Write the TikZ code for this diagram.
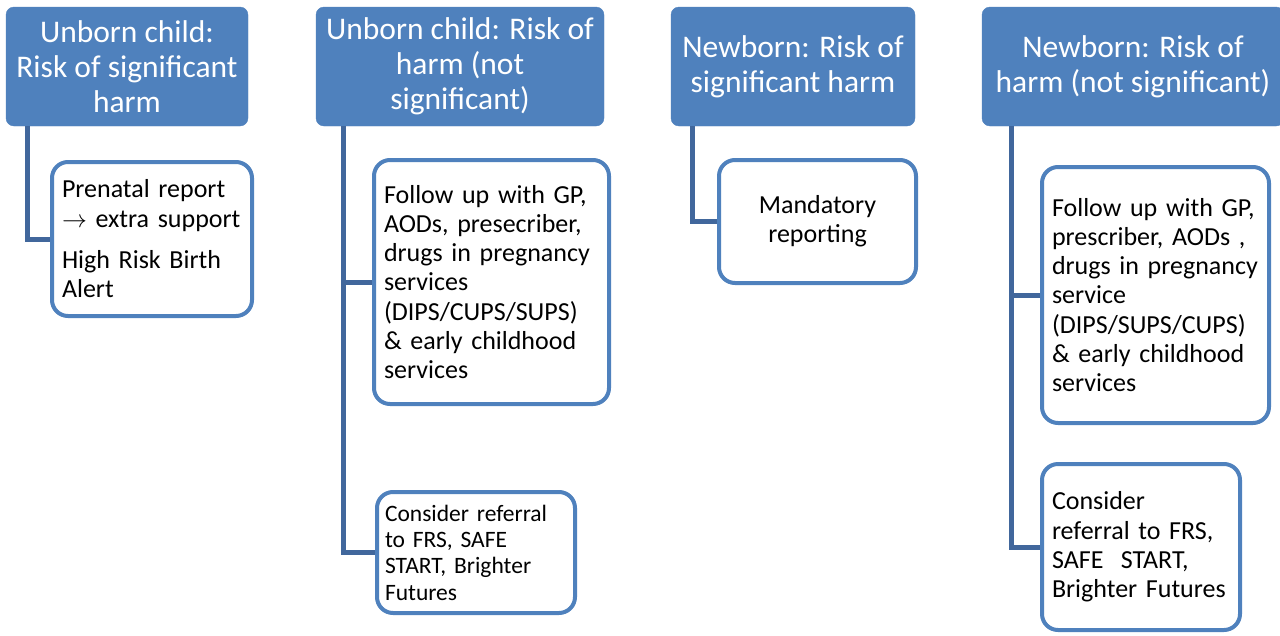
\documentclass[tikz,border=0pt]{standalone}
\usepackage{fontspec}
\setmainfont{Carlito}
\usepackage{tikz}
\usetikzlibrary{calc}
\definecolor{headblue}{RGB}{79,129,189}
\definecolor{linkblue}{RGB}{65,103,156}
\tikzstyle{head}=[rectangle,rounded corners=8pt,fill=headblue,draw=headblue,text=white,align=center,inner sep=0pt,font=\fontsize{31.5}{35}\selectfont]
\tikzstyle{leaf}=[rectangle,rounded corners=16pt,fill=white,draw=headblue,line width=4pt,align=left,inner xsep=10pt,inner ysep=0pt,font=\fontsize{26}{29.3}\selectfont]
\tikzstyle{smallleaf}=[leaf,inner xsep=8pt,font=\fontsize{23.5}{26.3}\selectfont]
\tikzstyle{branch}=[draw=linkblue,line width=5pt,line join=miter]

\begin{document}
\begin{tikzpicture}[x=1pt,y=-1pt]
    \clip (0,0) rectangle (1280,635);
    \useasboundingbox (0,0) rectangle (1280,635);

    % headings
    \node[head,minimum width=242,minimum height=119] (h1) at (127,66.5) {Unborn child:\\Risk of significant\\harm};
    \node[head,minimum width=288,minimum height=119] (h2) at (460,66.5) {Unborn child: Risk of\\harm (not\\significant)};
    \node[head,minimum width=244,minimum height=119] (h3) at (793,66.5) {Newborn: Risk of\\significant harm};
    \node[head,minimum width=302,minimum height=119] (h4) at (1133,66.5) {Newborn: Risk of\\harm (not significant)};

    % children
    \node[leaf,minimum width=196,minimum height=154,text width=180] (c1) at (152,239)
        {Prenatal report\\\(\rightarrow\) extra support\\[12pt]High Risk Birth\\Alert};
    \node[leaf,minimum width=235,minimum height=244,text width=215] (c2a) at (491.5,282)
        {Follow up with GP,\\AODs, presecriber,\\drugs in pregnancy\\services\\(DIPS/CUPS/SUPS)\\\& early childhood\\services};
    \node[smallleaf,minimum width=198,minimum height=121,text width=182] (c2b) at (476,552.5)
        {Consider referral\\to FRS, SAFE\\START, Brighter\\Futures};
    \node[leaf,align=center,minimum width=197,minimum height=123] (c3) at (817.5,221.5)
        {Mandatory\\reporting};
    \node[leaf,minimum width=227,minimum height=256,text width=207] (c4a) at (1155.5,295)
        {Follow up with GP,\\prescriber, AODs ,\\drugs in pregnancy\\service\\(DIPS/SUPS/CUPS)\\\& early childhood\\services};
    \node[leaf,minimum width=198,minimum height=166,text width=178] (c4b) at (1141,547)
        {Consider\\referral to FRS,\\SAFE\ \ START,\\Brighter Futures};

    % connectors
    \foreach \parent/\child/\off in {h1/c1/22, h2/c2a/28, h2/c2b/28, h3/c3/22, h4/c4a/30, h4/c4b/30}
        \path[branch] ([xshift=\off pt]\parent.south west) |- (\child.west);

\end{tikzpicture}
\end{document}
